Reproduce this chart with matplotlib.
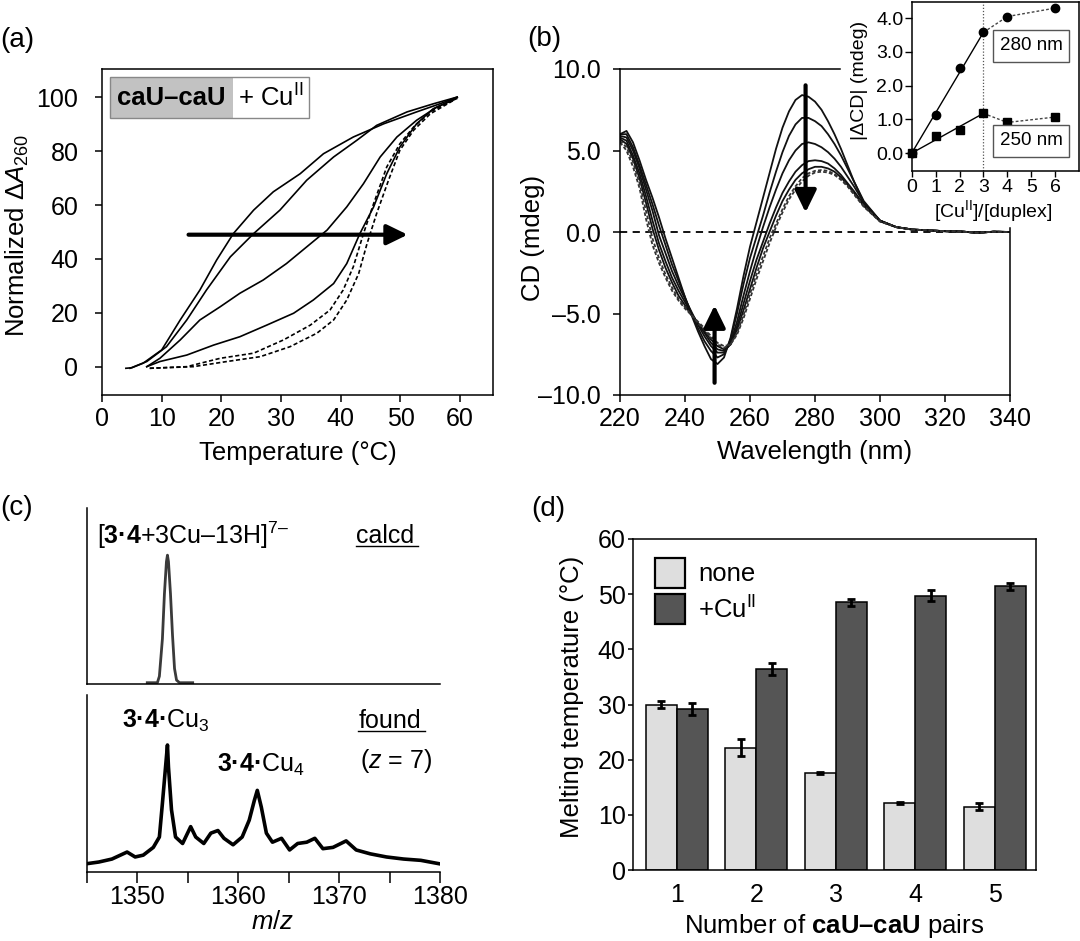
import matplotlib
matplotlib.use("Agg")
import matplotlib.pyplot as plt
from matplotlib.patches import Rectangle

plt.rcParams['font.family'] = ['Liberation Sans', 'DejaVu Sans']
plt.rcParams['mathtext.fontset'] = 'custom'
plt.rcParams['mathtext.rm'] = 'Liberation Sans'
plt.rcParams['mathtext.it'] = 'Liberation Sans:italic'
plt.rcParams['mathtext.bf'] = 'Liberation Sans:bold'
plt.rcParams['axes.linewidth'] = 1.1

# ---------------- data ----------------
# (a) melting curves
temp_a1 = [4.0, 5.0, 6.9, 10.0, 13.1, 16.4, 19.2, 22.0, 25.4, 28.7, 33.2, 37.1, 42.1, 47.2, 52.7, 56.6, 59.5]
abs_a1 = [-0.5, -0.3, 1.4, 6.3, 17.4, 28.5, 39.6, 49.4, 58.1, 64.9, 71.6, 79.0, 85.2, 90.1, 94.5, 97.5, 100]
temp_a2 = [4.7, 7.5, 10.8, 14.2, 17.5, 21.5, 25.4, 29.8, 34.3, 38.8, 42.7, 46.0, 51.1, 55.5, 59.5]
abs_a2 = [-0.5, 2.0, 7.5, 17.4, 28.5, 40.8, 49.4, 58.1, 69.2, 77.8, 84.0, 89.5, 94.5, 97.5, 100]
temp_a3 = [7.5, 9.7, 13.1, 16.4, 19.8, 23.1, 27.0, 30.9, 34.3, 37.7, 41.0, 43.8, 46.6, 49.4, 52.7, 56.1, 59.5]
abs_a3 = [0.1, 3.2, 10.0, 17.4, 22.3, 27.3, 32.2, 38.3, 44.5, 50.7, 59.3, 67.9, 77.8, 85.2, 91.4, 96.3, 99.8]
temp_a4 = [7.5, 9.7, 14.2, 18.7, 23.1, 27.6, 32.1, 35.4, 38.8, 41.0, 43.2, 45.5, 47.7, 49.9, 52.7, 55.5, 59.4]
abs_a4 = [0.1, 2.0, 4.4, 8.1, 11.2, 15.5, 19.9, 24.8, 30.9, 38.3, 49.4, 59.3, 71.6, 81.5, 90.1, 95.7, 99.4]
temp_a5 = [8.0, 14.2, 19.8, 25.4, 30.4, 34.9, 38.2, 40.4, 42.1, 43.8, 45.5, 47.7, 49.9, 52.2, 55.0, 58.9]
abs_a5 = [-0.5, 0.1, 3.2, 5.1, 10.0, 15.5, 21.1, 28.5, 37.1, 49.4, 60.5, 74.1, 82.7, 88.9, 94.5, 99.0]
temp_a6 = [8.0, 15.3, 20.9, 26.5, 31.5, 36.0, 38.8, 41.0, 43.0, 44.4, 46.0, 48.0, 49.9, 52.2, 55.0, 58.9]
abs_a6 = [-0.5, 0.1, 2.0, 3.8, 7.5, 12.5, 17.4, 24.8, 34.6, 45.7, 56.8, 69.2, 80.3, 87.7, 93.8, 98.8]

# (b) CD spectra
wavelength = [220, 222, 224, 226, 228, 230, 232, 234, 236, 238,
              240, 242, 244, 246, 248, 250, 252, 254, 256, 258,
              260, 262, 264, 266, 268, 270, 272, 274, 276, 278,
              280, 282, 284, 286, 288, 290, 292,
              295, 300, 305, 310, 315, 320, 325, 330, 335, 340]
cd_1 = [6.0, 6.2, 5.5, 4.4, 3.2, 2.1, 0.9, -0.4, -1.6, -2.8,
        -4.0, -5.1, -6.1, -7.0, -7.8, -8.1, -7.7, -6.5, -4.7, -2.7,
        -0.9, 0.6, 2.1, 3.6, 5.1, 6.4, 7.4, 8.1, 8.4, 8.3,
        8.0, 7.5, 6.8, 6.0, 5.1, 4.1, 3.1,
        1.8, 0.7, 0.3, 0.15, 0.1, 0.05, 0.03, -0.05, 0.02, 0.0]
cd_2 = [6.0, 6.0, 5.2, 4.1, 2.9, 1.7, 0.4, -0.8, -2.0, -3.0,
        -4.0, -5.0, -5.9, -6.7, -7.3, -7.7, -7.5, -6.6, -5.0, -3.2,
        -1.6, -0.3, 1.0, 2.4, 3.7, 4.9, 5.9, 6.6, 7.0, 7.0,
        6.8, 6.5, 6.0, 5.4, 4.7, 3.9, 3.1,
        1.9, 0.7, 0.3, 0.15, 0.1, 0.05, 0.03, -0.05, 0.02, 0.0]
cd_3 = [5.9, 5.8, 5.0, 3.9, 2.6, 1.3, -0.2, -1.3, -2.4, -3.3,
        -4.1, -4.9, -5.7, -6.4, -7.0, -7.4, -7.4, -6.8, -5.5, -3.9,
        -2.4, -1.0, 0.3, 1.5, 2.6, 3.6, 4.4, 5.0, 5.4, 5.5,
        5.4, 5.2, 4.9, 4.5, 4.0, 3.4, 2.8,
        1.8, 0.7, 0.3, 0.15, 0.1, 0.05, 0.03, -0.05, 0.02, 0.0]
cd_4 = [5.8, 5.6, 4.7, 3.6, 2.2, 0.7, -0.7, -1.8, -2.8, -3.6,
        -4.3, -5.0, -5.6, -6.2, -6.8, -7.2, -7.3, -6.9, -5.8, -4.4,
        -3.0, -1.7, -0.6, 0.5, 1.5, 2.4, 3.1, 3.7, 4.1, 4.35,
        4.4, 4.35, 4.2, 3.9, 3.5, 3.0, 2.5,
        1.7, 0.7, 0.3, 0.15, 0.1, 0.05, 0.03, -0.05, 0.02, 0.0]
cd_5 = [5.7, 5.4, 4.5, 3.3, 1.8, 0.2, -1.1, -2.2, -3.1, -3.9,
        -4.5, -5.1, -5.6, -6.1, -6.6, -7.0, -7.2, -6.9, -6.0, -4.8,
        -3.5, -2.2, -1.0, 0.0, 1.0, 1.9, 2.6, 3.2, 3.6, 3.85,
        4.0, 4.0, 3.9, 3.7, 3.35, 2.9, 2.4,
        1.6, 0.65, 0.3, 0.15, 0.1, 0.05, 0.03, -0.05, 0.02, 0.0]
cd_6 = [5.6, 5.2, 4.3, 3.0, 1.3, -0.4, -1.6, -2.6, -3.4, -4.1,
        -4.6, -5.1, -5.6, -6.0, -6.5, -6.9, -7.1, -6.9, -6.2, -5.1,
        -3.8, -2.6, -1.5, -0.4, 0.5, 1.4, 2.2, 2.8, 3.3, 3.6,
        3.75, 3.8, 3.75, 3.55, 3.25, 2.85, 2.35,
        1.6, 0.65, 0.3, 0.15, 0.1, 0.05, 0.03, -0.05, 0.02, 0.0]
cd_7 = [5.5, 5.0, 4.0, 2.7, 0.8, -0.8, -1.9, -2.8, -3.6, -4.2,
        -4.7, -5.1, -5.5, -5.9, -6.4, -6.8, -7.0, -6.9, -6.3, -5.3,
        -4.1, -2.9, -1.8, -0.7, 0.3, 1.2, 2.0, 2.6, 3.1, 3.45,
        3.65, 3.7, 3.65, 3.5, 3.2, 2.8, 2.3,
        1.55, 0.65, 0.3, 0.15, 0.1, 0.05, 0.03, -0.05, 0.02, 0.0]

# (b) inset titration
cu_ratio = [0, 1, 2, 3, 4, 6]
dcd_280 = [0.0, 1.13, 2.52, 3.58, 4.05, 4.30]
dcd_250 = [0.0, 0.51, 0.69, 1.18, 0.91, 1.07]

# (c) mass spectra
mz_calcd = [1351.0, 1352.0, 1352.2, 1352.5, 1352.7, 1352.9, 1353.0, 1353.1, 1353.3, 1353.5, 1353.7, 1353.9, 1354.2, 1355.5]
int_calcd = [0.01, 0.01, 0.06, 0.35, 0.70, 0.95, 1.00, 0.95, 0.70, 0.38, 0.12, 0.03, 0.01, 0.01]
mz_found = [1345.0, 1346.2, 1347.5, 1349.0, 1349.8, 1350.6, 1351.6, 1352.2, 1352.5, 1353.0,
            1353.1, 1353.4, 1353.8, 1354.5, 1355.3, 1355.8, 1356.6, 1357.3, 1358.0, 1358.6,
            1359.5, 1360.4, 1361.1, 1361.6, 1361.9, 1362.3, 1362.8, 1363.4, 1364.3, 1365.1,
            1365.9, 1366.8, 1367.6, 1368.4, 1369.4, 1370.7, 1371.7, 1373.1, 1374.7, 1376.4,
            1378.1, 1379.9]
int_found = [0.064, 0.077, 0.10, 0.154, 0.116, 0.13, 0.19, 0.27, 0.53, 0.98,
             0.81, 0.48, 0.27, 0.22, 0.35, 0.27, 0.22, 0.30, 0.32, 0.26,
             0.21, 0.27, 0.40, 0.55, 0.63, 0.50, 0.30, 0.23, 0.26, 0.17,
             0.22, 0.23, 0.26, 0.18, 0.19, 0.24, 0.17, 0.14, 0.116, 0.10,
             0.09, 0.064]

# (d) melting temperatures
n_pairs = [1, 2, 3, 4, 5]
tm_none = [30.0, 22.2, 17.6, 12.2, 11.5]
err_none = [0.6, 1.6, 0.2, 0.2, 0.6]
tm_cu = [29.2, 36.4, 48.5, 49.7, 51.4]
err_cu = [1.1, 1.1, 0.6, 1.0, 0.7]

# ---------------- figure ----------------
W, H = 1080, 941
fig = plt.figure(figsize=(W / 100, H / 100), dpi=100)


def box(l, t, r, b):
    return [l / W, 1 - b / H, (r - l) / W, (b - t) / H]


def ftext(px, py, s, **kw):
    fig.text(px / W, 1 - py / H, s, **kw)


FS = 18

# ---- (a) ----
ax = fig.add_axes(box(102, 69, 493, 395))
for T, A in [(temp_a1, abs_a1), (temp_a2, abs_a2), (temp_a3, abs_a3), (temp_a4, abs_a4)]:
    ax.plot(T, A, color='k', lw=1.2)
for T, A in [(temp_a5, abs_a5), (temp_a6, abs_a6)]:
    ax.plot(T, A, color='k', lw=1.2, ls=(0, (2.5, 1.5)))
ax.set_xlim(0, 65.5)
ax.set_ylim(-10.4, 110.4)
ax.set_xticks(range(0, 61, 10))
ax.set_yticks(range(0, 101, 20))
ax.tick_params(axis='x', direction='out', length=5, width=1.1, labelsize=FS, pad=4)
ax.tick_params(axis='y', direction='out', length=5, width=1.1, labelsize=FS, pad=12)
ax.add_patch(Rectangle((1.3, 92.2), 20.6, 15.2, fc='#c2c2c2', ec='none'))
ax.add_patch(Rectangle((1.3, 92.2), 33.4, 15.2, fc='none', ec='#888888', lw=1))
ax.text(11.6, 99.8, 'caU–caU', fontsize=18.5, fontweight='bold', ha='center', va='center')
ax.text(28.3, 99.8, r'+ Cu$^{\mathrm{II}}$', fontsize=18.5, ha='center', va='center')
ax.annotate('', xy=(51.2, 49), xytext=(14.5, 49),
            arrowprops=dict(arrowstyle='-|>,head_length=0.45,head_width=0.22', lw=3, color='k',
                            mutation_scale=28, shrinkA=0, shrinkB=0))
ftext(17, 235, r'Normalized $\Delta\mathit{A}_{\mathrm{260}}$', fontsize=18.5, rotation=90, ha='center', va='center')
ftext(298, 453, 'Temperature (°C)', fontsize=18.5, ha='center', va='center')
ftext(0, 40, '(a)', fontsize=20, ha='left', va='center')

# ---- (b) ----
bx = fig.add_axes(box(620, 69, 1010, 395))
bx.axhline(0, color='k', lw=1.3, ls=(0, (4, 3)))
for cd in [cd_1, cd_2, cd_3, cd_4, cd_5]:
    bx.plot(wavelength, cd, color='#111111', lw=1.3)
for cd in [cd_6, cd_7]:
    bx.plot(wavelength, cd, color='#333333', lw=1.3, ls=(0, (2, 1.2)))
bx.set_xlim(220, 340)
bx.set_ylim(-10, 10)
bx.set_xticks(range(220, 341, 20))
bx.set_yticks([-10, -5, 0, 5, 10])
bx.set_yticklabels(['–10.0', '–5.0', '0.0', '5.0', '10.0'])
bx.spines['top'].set_bounds(220, 287.6)
bx.spines['right'].set_bounds(-10, 0.26)
bx.tick_params(axis='x', direction='out', length=5, width=1.1, labelsize=FS, pad=4)
bx.tick_params(axis='y', direction='out', length=5, width=1.1, labelsize=FS, pad=8.5)
arrow_b = dict(arrowstyle='-|>,head_length=0.45,head_width=0.22', lw=3, color='k',
               mutation_scale=30, shrinkA=0, shrinkB=0)
bx.annotate('', xy=(277.1, 1.2), xytext=(277.1, 9.0), arrowprops=arrow_b)
bx.annotate('', xy=(249.1, -4.5), xytext=(249.1, -9.25), arrowprops=arrow_b)
ftext(533, 238, 'CD (mdeg)', fontsize=18.5, rotation=90, ha='center', va='center')
ftext(815, 452, 'Wavelength (nm)', fontsize=18.5, ha='center', va='center')
ftext(527, 39, '(b)', fontsize=20, ha='left', va='center')

# inset
ix = fig.add_axes(box(911.7, 1.7, 1079, 170.7))
ix.set_zorder(5)
ix.set_facecolor('white')
ix.axvline(3, color='#555555', lw=0.9, ls=(0, (1, 1.5)))
ix.plot([cu_ratio[0], cu_ratio[3]], [dcd_280[0], dcd_280[3]], color='k', lw=1)
ix.plot([cu_ratio[0], cu_ratio[3]], [dcd_250[0], dcd_250[3]], color='k', lw=1)
ix.plot(cu_ratio[3:], dcd_280[3:], color='#444444', lw=1, ls=(0, (2, 1.5)))
ix.plot(cu_ratio[3:], dcd_250[3:], color='#444444', lw=1, ls=(0, (2, 1.5)))
ix.plot(cu_ratio, dcd_280, 'o', color='k', ms=6, clip_on=False, zorder=5)
ix.plot(cu_ratio, dcd_250, 's', color='k', ms=5.5, clip_on=False, zorder=5)
ix.set_xlim(0, 7.0)
ix.set_ylim(-0.52, 4.49)
ix.set_xticks(range(0, 7))
ix.set_yticks([0, 1, 2, 3, 4])
ix.set_yticklabels(['0.0', '1.0', '2.0', '3.0', '4.0'])
ix.tick_params(axis='x', direction='out', length=4, width=1, labelsize=14, pad=2)
ix.tick_params(axis='y', direction='out', length=5, width=1, labelsize=14, pad=1)
for (y0, y1), lab in [((2.71, 3.65), '280 nm'), ((-0.11, 0.84), '250 nm')]:
    ix.add_patch(Rectangle((3.41, y0), 3.18, y1 - y0, fc='white', ec='#555555', lw=1, zorder=6))
    ix.text(5.0, (y0 + y1) / 2, lab, fontsize=13.5, ha='center', va='center', zorder=7)
ftext(859, 80, '|ΔCD| (mdeg)', fontsize=14, rotation=90, ha='center', va='center', zorder=6)
ftext(993, 211, r'[Cu$^{\mathrm{II}}$]/[duplex]', fontsize=14, ha='center', va='center', zorder=6)

# ---- (c) ----
cu_ax = fig.add_axes(box(86.7, 508, 440, 684))
cu_ax.plot(mz_calcd, int_calcd, color='#3a3a3a', lw=2)
cu_ax.set_xlim(1345, 1380)
cu_ax.set_ylim(0, 1.366)
for s in ['top', 'right']:
    cu_ax.spines[s].set_visible(False)
cu_ax.set_xticks([])
cu_ax.set_yticks([])
cu_ax.text(1346.0, 1.085, r'[$\mathbf{3·4}$+3Cu–13H]$^{7–}$', fontsize=18, ha='left', va='baseline')
cu_ax.text(1371.7, 1.095, 'calcd', fontsize=18, ha='left', va='baseline')
cu_ax.plot([1371.7, 1377.8], [1.07, 1.07], color='k', lw=1)

cl = fig.add_axes(box(86.7, 695, 440, 872))
cl.plot(mz_found, int_found, color='k', lw=2.6, solid_joinstyle='round')
cl.set_xlim(1345, 1380)
cl.set_ylim(0, 1.366)
for s in ['top', 'right']:
    cl.spines[s].set_visible(False)
cl.set_yticks([])
cl.set_xticks([1350, 1360, 1370, 1380])
cl.set_xticks([1345, 1355, 1365, 1375], minor=True)
cl.tick_params(axis='x', which='both', direction='out', length=8, width=1.1, labelsize=FS, pad=1.5)
cl.text(1348.5, 1.115, r'$\mathbf{3·4·}$Cu$_3$', fontsize=18, ha='left', va='baseline')
cl.text(1357.9, 0.77, r'$\mathbf{3·4·}$Cu$_4$', fontsize=18, ha='left', va='baseline')
cl.text(1371.9, 1.115, 'found', fontsize=18, ha='left', va='baseline')
cl.plot([1371.9, 1378.5], [1.09, 1.09], color='k', lw=1)
cl.text(1372.1, 0.80, r'($\mathit{z}$ = 7)', fontsize=18, ha='left', va='baseline')
ftext(273, 922, r'$\mathit{m}/\mathit{z}$', fontsize=18.5, ha='center', va='center')
ftext(0, 508, '(c)', fontsize=20, ha='left', va='center')

# ---- (d) ----
dx = fig.add_axes(box(632.5, 539, 1036, 870))
bw = 0.39
x_none = [n - bw / 2 for n in n_pairs]
x_cu = [n + bw / 2 for n in n_pairs]
dx.bar(x_none, tm_none, width=bw, color='#dedede', edgecolor='k', lw=1.1)
dx.bar(x_cu, tm_cu, width=bw, color='#555555', edgecolor='k', lw=1.1)
dx.errorbar(x_none, tm_none, yerr=err_none, fmt='none', ecolor='k', elinewidth=2, capsize=3, capthick=2)
dx.errorbar(x_cu, tm_cu, yerr=err_cu, fmt='none', ecolor='k', elinewidth=2, capsize=3, capthick=2)
dx.set_xlim(0.44, 5.52)
dx.set_ylim(0, 60)
dx.set_xticks(n_pairs)
dx.set_yticks(range(0, 61, 10))
dx.tick_params(axis='x', length=0, labelsize=FS, pad=9)
dx.tick_params(axis='y', direction='out', length=3.5, width=1.1, labelsize=FS, pad=1.5)
dx.add_patch(Rectangle((0.72, 51.1), 0.38, 5.5, fc='#dedede', ec='k', lw=1.6))
dx.add_patch(Rectangle((0.72, 44.6), 0.38, 5.5, fc='#555555', ec='k', lw=1.6))
dx.text(1.27, 53.6, 'none', fontsize=18.5, ha='left', va='center')
dx.text(1.27, 47.1, r'+Cu$^{\mathrm{II}}$', fontsize=18.5, ha='left', va='center')
ftext(572, 697, 'Melting temperature (°C)', fontsize=18.5, rotation=90, ha='center', va='center')
ftext(834, 926, r'Number of $\mathbf{caU–caU}$ pairs', fontsize=18.5, ha='center', va='center')
ftext(531, 509, '(d)', fontsize=20, ha='left', va='center')

fig.savefig('out.png', dpi=100)
